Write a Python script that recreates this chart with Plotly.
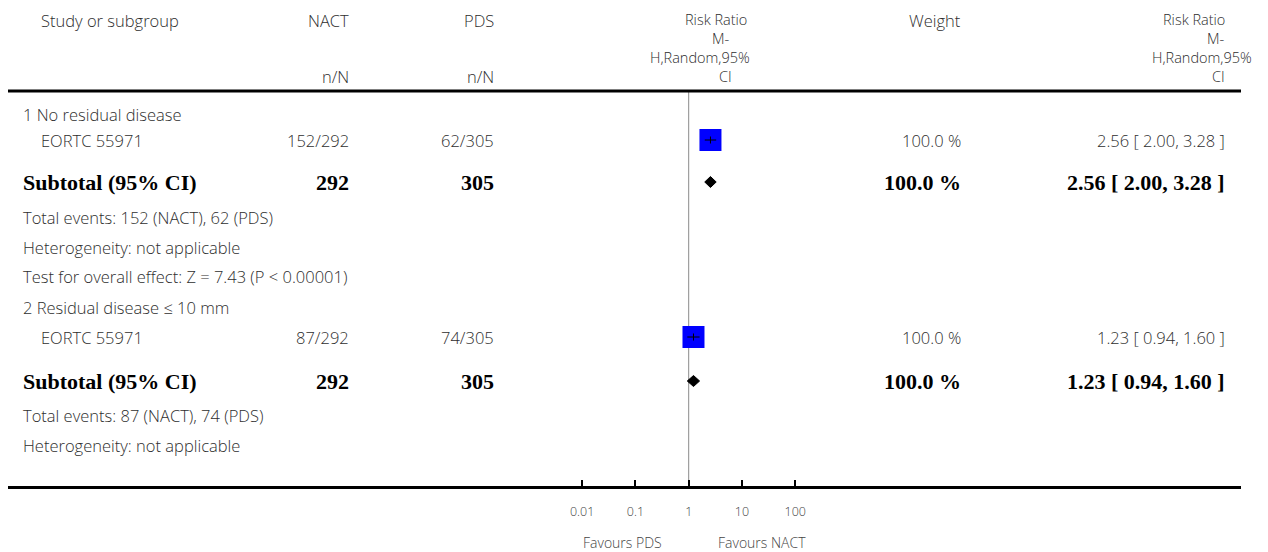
import plotly.graph_objects as go

# ---------------- data ----------------
subgroup_labels = ["1 No residual disease", "2 Residual disease \u2264 10 mm"]
study_names = ["EORTC 55971", "EORTC 55971"]
nact_events = [152, 87]
nact_totals = [292, 292]
pds_events = [62, 74]
pds_totals = [305, 305]
rr_est = [2.56, 1.23]
rr_lo = [2.00, 0.94]
rr_hi = [3.28, 1.60]
weights = [100.0, 100.0]
heterogeneity = ["Heterogeneity: not applicable", "Heterogeneity: not applicable"]
overall_effect = ["Test for overall effect: Z = 7.43 (P < 0.00001)", None]
null_value = [1]
tick_vals = [0.01, 0.1, 1, 10, 100]
tick_text = ["0.01", "0.1", "1", "10", "100"]
favours_labels = ["Favours PDS", "Favours NACT"]
col_headers = ["Study or subgroup", "NACT", "PDS", "Weight"]
rr_header_lines = ["Risk Ratio", "M-", "H,Random,95%", "CI"]

# ---------------- layout geometry (page pixels) ----------------
OFF = 8                      # page body margin
W, H = 1268 - OFF, 552 - OFF  # figure size
X_ONE = 688.7                # page pixel of RR = 1
PX_DEC = 53.3                # pixels per decade
LINE_L, LINE_R = 8, 1241
AXIS_Y = 486
HEADER_LINE_Y = 91

BODY = dict(family="Open Sans, Lato, sans-serif", size=16.5, color="#2e2e2e", weight=300)
HEAD = dict(family="Open Sans, Lato, sans-serif", size=14.5, color="#2e2e2e", weight=300)
BOLD = dict(family="Liberation Serif, Times New Roman, serif", size=22, color="#000000", weight="bold")
TICK = dict(family="Open Sans, Lato, sans-serif", size=12.5, color="#444444", weight=300)
FAV = dict(family="Open Sans, Lato, sans-serif", size=14, color="#444444", weight=300)

fig = go.Figure()


def px2log(px):
    return (px - X_ONE) / PX_DEC


def pxx(x):
    return (x - OFF) / W


def pxy(y):
    return 1 - (y - OFF) / H


def note(x, y, s, anchor="left", font=BODY):
    fig.add_annotation(x=pxx(x), y=pxy(y), xref="paper", yref="paper",
                       text=s, showarrow=False, xanchor=anchor, yanchor="middle",
                       font=font, borderpad=0)


# ---------------- header ----------------
note(40, 20, col_headers[0], "left")
note(350, 20, col_headers[1], "right")
note(350, 76, "n/N", "right")
note(495, 20, col_headers[2], "right")
note(495, 76, "n/N", "right")
note(962, 20, col_headers[3], "right")

hdr_y = [19, 38, 57, 76]
mid_centers = [716, 721, 700, 725]
for s, yy, cx in zip(rr_header_lines, hdr_y, mid_centers):
    note(cx, yy, s, "center", HEAD)
right_edges = [1226, 1226, 1253, 1226]
for s, yy, rx in zip(rr_header_lines, hdr_y, right_edges):
    note(rx, yy, s, "right", HEAD)

# ---------------- rows ----------------
row_y = {
    "sub": [115, 307],
    "study": [140, 337],
    "total": [182, 381],
    "events": [218, 415],
    "het": [247, 445],
    "test": [276, None],
}

for i in range(len(subgroup_labels)):
    note(22, row_y["sub"][i], subgroup_labels[i], "left")
    note(40, row_y["study"][i], study_names[i], "left")
    note(350, row_y["study"][i], f"{nact_events[i]}/{nact_totals[i]}", "right")
    note(495, row_y["study"][i], f"{pds_events[i]}/{pds_totals[i]}", "right")
    note(962, row_y["study"][i], f"{weights[i]:.1f} %", "right")
    note(1226, row_y["study"][i], f"{rr_est[i]:.2f} [ {rr_lo[i]:.2f}, {rr_hi[i]:.2f} ]", "right")

    note(22, row_y["total"][i], "Subtotal (95% CI)", "left", BOLD)
    note(350, row_y["total"][i], f"{nact_totals[i]}", "right", BOLD)
    note(495, row_y["total"][i], f"{pds_totals[i]}", "right", BOLD)
    note(962, row_y["total"][i], f"{weights[i]:.1f} %", "right", BOLD)
    note(1226, row_y["total"][i], f"{rr_est[i]:.2f} [ {rr_lo[i]:.2f}, {rr_hi[i]:.2f} ]", "right", BOLD)

    note(22, row_y["events"][i], f"Total events: {nact_events[i]} (NACT), {pds_events[i]} (PDS)", "left")
    note(22, row_y["het"][i], heterogeneity[i], "left")
    if overall_effect[i] and row_y["test"][i] is not None:
        note(22, row_y["test"][i], overall_effect[i], "left")

# ---------------- forest marks ----------------
fig.add_shape(type="line", xref="x", yref="y", x0=null_value[0], x1=null_value[0],
              y0=HEADER_LINE_Y + 1, y1=AXIS_Y, line=dict(color="#8a8a8a", width=1), layer="below")

fig.add_trace(go.Scatter(x=rr_est, y=row_y["study"], mode="markers",
                         marker=dict(symbol="square", size=22, color="#0000FF", line=dict(width=0)),
                         hoverinfo="skip", showlegend=False))
for i in range(len(rr_est)):
    yy = row_y["study"][i]
    fig.add_trace(go.Scatter(x=[rr_lo[i], rr_hi[i]], y=[yy, yy], mode="lines",
                             line=dict(color="#000000", width=1),
                             hoverinfo="skip", showlegend=False))
fig.add_trace(go.Scatter(x=rr_est, y=row_y["study"], mode="markers",
                         marker=dict(symbol="line-ns", size=5, line=dict(width=1, color="#000000")),
                         hoverinfo="skip", showlegend=False))

HALF_D = 5.5
for i in range(len(rr_est)):
    yy = row_y["total"][i]
    fig.add_trace(go.Scatter(
        x=[rr_lo[i], rr_est[i], rr_hi[i], rr_est[i], rr_lo[i]],
        y=[yy, yy - HALF_D, yy, yy + HALF_D, yy],
        mode="lines", fill="toself", fillcolor="#000000",
        line=dict(color="#000000", width=1),
        hoverinfo="skip", showlegend=False))

fig.add_shape(type="line", xref="paper", yref="paper",
              x0=pxx(LINE_L), x1=pxx(LINE_R), y0=pxy(HEADER_LINE_Y), y1=pxy(HEADER_LINE_Y),
              line=dict(color="#000000", width=3))

note(622, 542, favours_labels[0], "center", FAV)
note(762, 542, favours_labels[1], "center", FAV)

fig.update_layout(
    width=W, height=H,
    margin=dict(l=0, r=0, t=0, b=0),
    paper_bgcolor="white", plot_bgcolor="white",
    showlegend=False,
    xaxis=dict(type="log", domain=[pxx(LINE_L), pxx(LINE_R)],
               range=[px2log(LINE_L), px2log(LINE_R)],
               showgrid=False, zeroline=False,
               showline=True, linecolor="#000000", linewidth=3,
               ticks="inside", ticklen=6, tickwidth=2, tickcolor="#000000",
               tickmode="array", tickvals=tick_vals, ticktext=tick_text,
               tickfont=TICK, ticklabelstandoff=12, fixedrange=True),
    yaxis=dict(domain=[pxy(AXIS_Y), pxy(OFF)], range=[AXIS_Y, OFF],
               visible=False, showgrid=False, zeroline=False, fixedrange=True),
)

fig.write_html("out.html", config={"displayModeBar": False})
